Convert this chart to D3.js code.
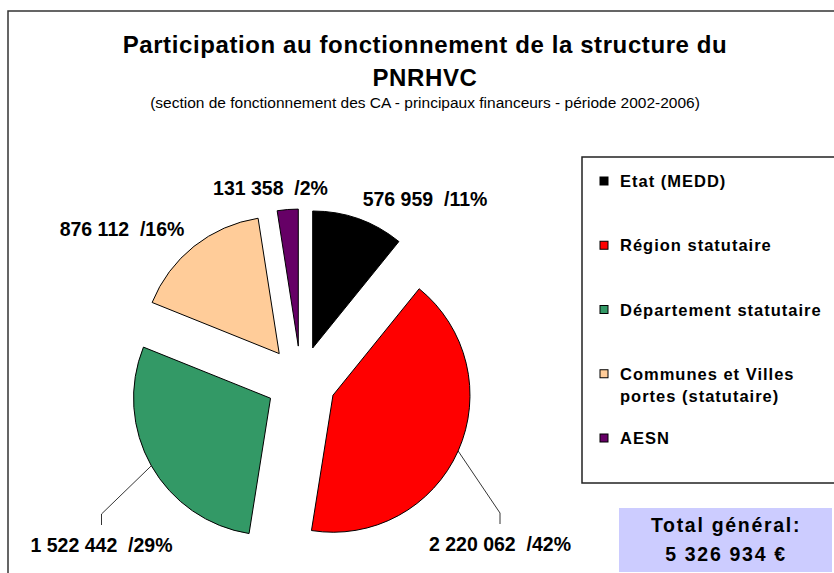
<!DOCTYPE html>
<html>
<head>
<meta charset="utf-8">
<script src="https://cdn.jsdelivr.net/npm/d3@7"></script>
<style>
  body { margin: 0; background: #fff; }
  svg { display: block; font-family: Arial, "Liberation Sans", sans-serif; }
</style>
</head>
<body>
<svg id="chart" width="834" height="573"></svg>
<script>
// data
const categories = ["Etat (MEDD)", "Région statutaire", "Département statutaire", "Communes et Villes portes (statutaire)", "AESN"];
const legendLines = [["Etat (MEDD)"], ["Région statutaire"], ["Département statutaire"], ["Communes et Villes", "portes (statutaire)"], ["AESN"]];
const values = [576959, 2220062, 1522442, 876112, 131358];
const colors = ["#000000", "#FF0000", "#339966", "#FFCC99", "#660066"];
const totalValue = 5326934;

const title = ["Participation au fonctionnement de la structure du", "PNRHVC"];
const subtitle = "(section de fonctionnement des CA - principaux financeurs - période 2002-2006)";

// layout
const cx = 301, cy = 381, radius = 137, explode = 35;
// label anchor (centre x, baseline) relative to the pie centre
const labelOffsets = [[124, -175], [199, 170], [-199.5, 171], [-179, -145], [-30.5, -186]];
const hasLeader = [false, true, true, false, false];

const fr = d3.formatLocale({ decimal: ",", thousands: " ", grouping: [3], currency: ["", " €"] });
const fmt = fr.format(",d");
const sum = d3.sum(values);

const svg = d3.select("#chart");

// outer frame (clipped by window on right/bottom)
svg.append("rect")
  .attr("x", 8).attr("y", 11)
  .attr("width", 900).attr("height", 700)
  .attr("fill", "none").attr("stroke", "#333").attr("stroke-width", 1.5);

// titles
svg.append("text")
  .attr("x", 425).attr("y", 53)
  .attr("text-anchor", "middle")
  .attr("font-size", 24).attr("font-weight", "bold")
  .attr("letter-spacing", 0.6)
  .text(title[0]);
svg.append("text")
  .attr("x", 425).attr("y", 86)
  .attr("text-anchor", "middle")
  .attr("font-size", 24).attr("font-weight", "bold")
  .attr("letter-spacing", 0.6)
  .text(title[1]);
svg.append("text")
  .attr("x", 425).attr("y", 108)
  .attr("text-anchor", "middle")
  .attr("font-size", 15.5)
  .text(subtitle);

// pie
const pie = d3.pie().sort(null).value(d => d)(values);
const arc = d3.arc().innerRadius(0).outerRadius(radius);
const midAngle = d => (d.startAngle + d.endAngle) / 2;

const g = svg.append("g").attr("transform", `translate(${cx},${cy})`);

g.selectAll("path.slice")
  .data(pie)
  .join("path")
  .attr("class", "slice")
  .attr("d", arc)
  .attr("transform", d => {
    const a = midAngle(d);
    return `translate(${explode * Math.sin(a)},${-explode * Math.cos(a)})`;
  })
  .attr("fill", (d, i) => colors[i])
  .attr("stroke", "#000")
  .attr("stroke-width", 1);

// leader lines
pie.forEach((d, i) => {
  if (!hasLeader[i]) return;
  const a = midAngle(d);
  const r = radius + explode;
  const x0 = r * Math.sin(a), y0 = -r * Math.cos(a);
  const [lx, ly] = labelOffsets[i];
  g.append("polyline")
    .attr("points", [[x0, y0], [lx, ly - 38], [lx, ly - 27]].map(p => p.join(",")).join(" "))
    .attr("fill", "none")
    .attr("stroke", "#000")
    .attr("stroke-width", 0.8);
});

// data labels
g.selectAll("text.lbl")
  .data(pie)
  .join("text")
  .attr("class", "lbl")
  .attr("x", (d, i) => labelOffsets[i][0])
  .attr("y", (d, i) => labelOffsets[i][1])
  .attr("text-anchor", "middle")
  .attr("font-size", 19.5)
  .attr("font-weight", "bold")
  .style("white-space", "pre")
  .text(d => `${fmt(d.value)}  /${Math.round(d.value / sum * 100)}%`);

// legend
svg.append("rect")
  .attr("x", 582).attr("y", 157)
  .attr("width", 400).attr("height", 326)
  .attr("fill", "#fff").attr("stroke", "#222").attr("stroke-width", 1.5);

const legendY = d3.scalePoint().domain(categories).range([187, 444]);

const leg = svg.append("g").selectAll("g")
  .data(categories)
  .join("g");
leg.append("rect")
  .attr("x", 600).attr("y", c => legendY(c) - 10)
  .attr("width", 8).attr("height", 8)
  .attr("fill", (c, i) => colors[i])
  .attr("stroke", "#000").attr("stroke-width", 1);
leg.append("text")
  .attr("x", 620).attr("y", c => legendY(c))
  .attr("font-size", 16.5).attr("font-weight", "bold")
  .attr("letter-spacing", 1.0)
  .selectAll("tspan")
  .data((c, i) => legendLines[i])
  .join("tspan")
  .attr("x", 620)
  .attr("dy", (t, j) => j === 0 ? 0 : 22)
  .text(t => t);

// total box
svg.append("rect")
  .attr("x", 619).attr("y", 508)
  .attr("width", 213).attr("height", 64)
  .attr("fill", "#CCCCFF");
svg.append("text")
  .attr("x", 726).attr("y", 532)
  .attr("text-anchor", "middle")
  .attr("font-size", 19.5).attr("font-weight", "bold")
  .attr("letter-spacing", 1.7)
  .text("Total général:");
svg.append("text")
  .attr("x", 726).attr("y", 561)
  .attr("text-anchor", "middle")
  .attr("font-size", 19.5).attr("font-weight", "bold")
  .attr("letter-spacing", 1.7)
  .text(fr.format("$,d")(totalValue));
</script>
</body>
</html>
